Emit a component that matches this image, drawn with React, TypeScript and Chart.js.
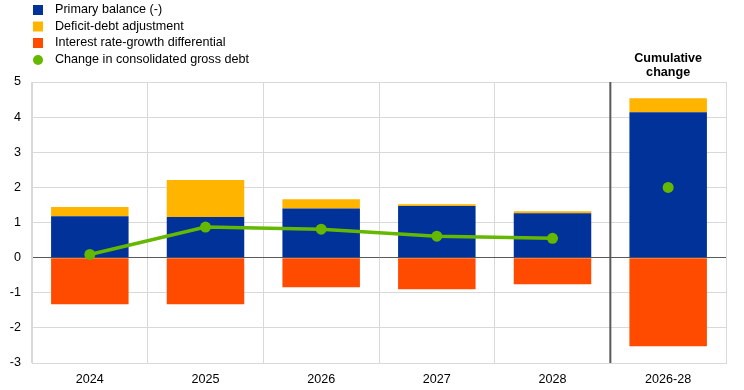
import React, { useEffect, useRef } from "react";
import { Chart, registerables } from "chart.js";

Chart.register(...registerables);

const categories = ["2024", "2025", "2026", "2027", "2028", "2026-28"];
const primaryBalance = [1.18, 1.16, 1.4, 1.47, 1.26, 4.14];
const deficitDebtAdj = [0.26, 1.05, 0.26, 0.05, 0.06, 0.4];
const interestGrowth = [-1.33, -1.33, -0.84, -0.9, -0.76, -2.52];
const debtChange = [0.09, 0.87, 0.81, 0.61, 0.55, null];
const cumulativeDebtChange = [null, null, null, null, null, 2.0];
const legendLabels = [
  "Primary balance (-)",
  "Deficit-debt adjustment",
  "Interest rate-growth differential",
  "Change in consolidated gross debt",
];
const cumulativeTitle = ["Cumulative", "change"];

const BLUE = "#003299";
const YELLOW = "#FFB400";
const RED = "#FF4B00";
const GREEN = "#65B800";
const FONT = "'Liberation Sans', Arial, sans-serif";

const overlayPlugin = {
  id: "overlay",
  afterDraw(chart: any) {
    const { ctx, chartArea, scales } = chart;
    const x = scales.x;
    const sepX = (x.getPixelForValue(4) + x.getPixelForValue(5)) / 2;
    ctx.save();
    ctx.strokeStyle = "#595959";
    ctx.lineWidth = 2;
    ctx.beginPath();
    ctx.moveTo(sepX, chartArea.top);
    ctx.lineTo(sepX, chartArea.bottom);
    ctx.stroke();
    ctx.fillStyle = "#000";
    ctx.font = `bold 12.6px ${FONT}`;
    ctx.textAlign = "center";
    ctx.textBaseline = "middle";
    const cx = x.getPixelForValue(5);
    ctx.fillText(cumulativeTitle[0], cx, 59);
    ctx.fillText(cumulativeTitle[1], cx, 73);
    ctx.font = `12.6px ${FONT}`;
    ctx.textAlign = "left";
    const colors = [BLUE, YELLOW, RED, GREEN];
    const rows = [10, 26.5, 43, 60];
    legendLabels.forEach((label, i) => {
      const y = rows[i];
      ctx.fillStyle = colors[i];
      if (i < 3) {
        ctx.fillRect(33, y - 5, 10, 10);
      } else {
        ctx.beginPath();
        ctx.arc(38, y, 5, 0, Math.PI * 2);
        ctx.fill();
      }
      ctx.fillStyle = "#000";
      ctx.fillText(label, 55, y);
    });
    ctx.restore();
  },
};

export default function App() {
  const ref = useRef<HTMLCanvasElement | null>(null);
  useEffect(() => {
    if (!ref.current) return;
    const chart = new Chart(ref.current, {
      type: "bar",
      data: {
        labels: categories,
        datasets: [
          {
            type: "line",
            label: legendLabels[3],
            data: debtChange as any,
            borderColor: GREEN,
            backgroundColor: GREEN,
            borderWidth: 3.5,
            pointRadius: 5.5,
            pointHoverRadius: 5.5,
            pointBackgroundColor: GREEN,
            pointBorderWidth: 0,
            stack: "line1",
            order: 0,
          },
          {
            type: "line",
            label: "cum",
            data: cumulativeDebtChange as any,
            borderColor: GREEN,
            backgroundColor: GREEN,
            showLine: false,
            pointRadius: 5.5,
            pointHoverRadius: 5.5,
            pointBorderWidth: 0,
            stack: "line2",
            order: 0,
          },
          {
            label: legendLabels[0],
            data: primaryBalance,
            backgroundColor: BLUE,
            stack: "bars",
            barPercentage: 0.67,
            categoryPercentage: 1,
            order: 1,
          },
          {
            label: legendLabels[1],
            data: deficitDebtAdj,
            backgroundColor: YELLOW,
            stack: "bars",
            barPercentage: 0.67,
            categoryPercentage: 1,
            order: 1,
          },
          {
            label: legendLabels[2],
            data: interestGrowth,
            backgroundColor: RED,
            stack: "bars",
            barPercentage: 0.67,
            categoryPercentage: 1,
            order: 1,
          },
        ],
      },
      options: {
        animation: false,
        responsive: false,
        layout: { padding: { top: 82, right: 18, bottom: 0, left: 0 } },
        plugins: { legend: { display: false }, tooltip: { enabled: false } },
        scales: {
          x: {
            stacked: true,
            grid: { color: "#d9d9d9", drawTicks: false, offset: true },
            border: { color: "#d9d9d9" },
            ticks: { color: "#000", font: { family: FONT, size: 12.6 }, padding: 9 },
            afterFit(scale: any) {
              scale.height = 27;
            },
          },
          y: {
            stacked: true,
            min: -3,
            max: 5,
            grid: {
              color: (c: any) => (c.tick && c.tick.value === 0 ? "#595959" : "#d9d9d9"),
              drawTicks: false,
            },
            border: { color: "#d9d9d9" },
            ticks: { stepSize: 1, color: "#000", font: { family: FONT, size: 12.6 }, padding: 11 },
            afterFit(scale: any) {
              scale.width = 32;
            },
          },
        },
      },
      plugins: [overlayPlugin],
    });
    return () => chart.destroy();
  }, []);
  return (
    <div style={{ position: "absolute", left: 0, top: 0, width: 744, height: 390, background: "#fff" }}>
      <canvas ref={ref} width={744} height={390} style={{ width: 744, height: 390 }} />
    </div>
  );
}
